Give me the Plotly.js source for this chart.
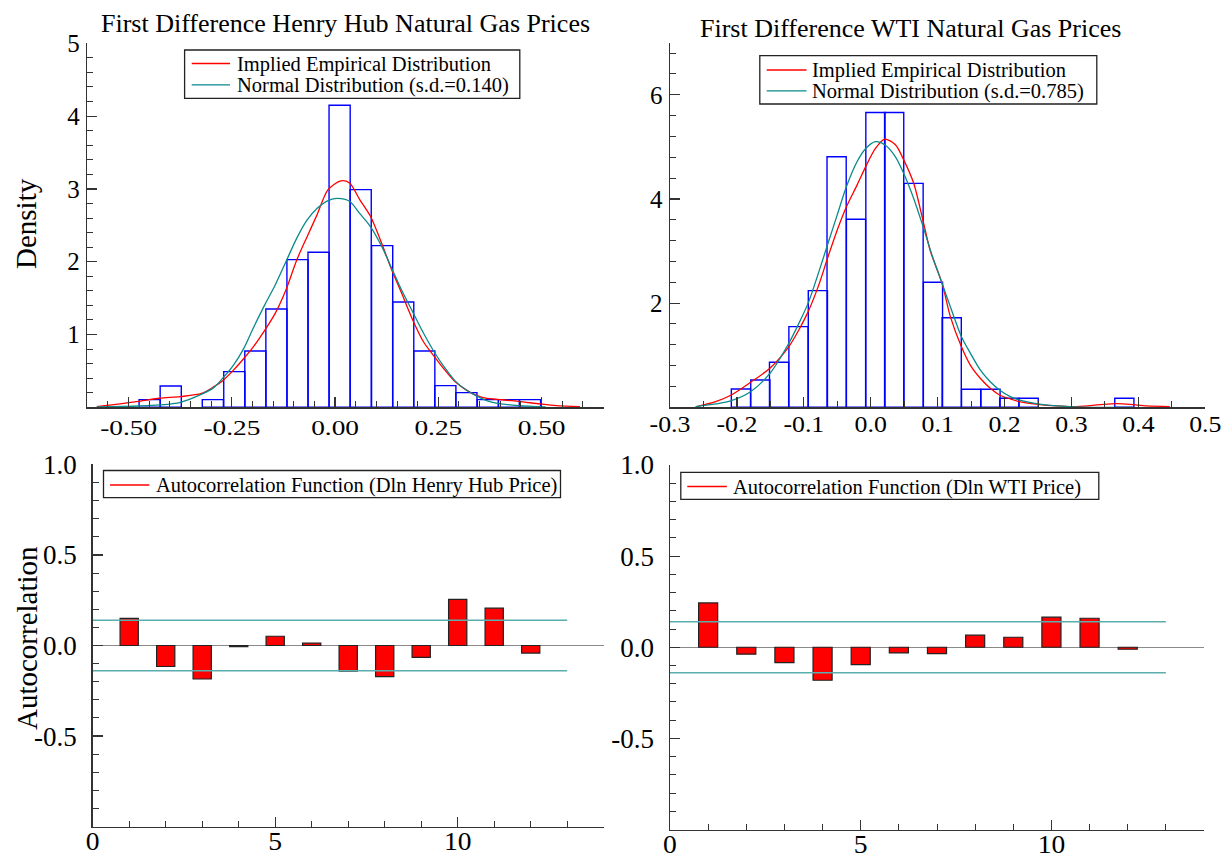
<!DOCTYPE html>
<html>
<head>
<meta charset="utf-8">
<script src="https://cdn.plot.ly/plotly-3.0.1.min.js"></script>
<style>
  html, body { margin: 0; padding: 0; background: #ffffff; }
  #chart { width: 1225px; height: 863px; }
</style>
</head>
<body>
<div id="chart"></div>
<script>
// ---------------- DATA ----------------
// Henry Hub histogram (density), bin centres and common bin width
const hhBinCenters = [-0.449, -0.398, -0.347, -0.296, -0.244, -0.193, -0.142, -0.091, -0.040, 0.011, 0.062, 0.114, 0.165, 0.216, 0.267, 0.318, 0.370, 0.421, 0.472];
const hhBinDensity = [0.105, 0.293, null, 0.105, 0.49, 0.774, 1.351, 2.028, 2.129, 4.15, 2.99, 2.221, 1.447, 0.774, 0.298, 0.201, 0.105, 0.105, 0.105];
const hhBinWidth = 0.0512;

// Henry Hub implied empirical density
const hhEmpX = [-0.577, -0.475, -0.425, -0.374, -0.323, -0.294, -0.272, -0.246, -0.221, -0.198, -0.170, -0.145, -0.119, -0.093, -0.068, -0.044, -0.017, 0.014, 0.035, 0.060, 0.086, 0.113, 0.137, 0.161, 0.188, 0.214, 0.240, 0.266, 0.291, 0.317, 0.342, 0.367, 0.393, 0.444, 0.496, 0.536, 0.593];
const hhEmpY = [0.01, 0.082, 0.124, 0.147, 0.19, 0.28, 0.366, 0.51, 0.67, 0.83, 1.06, 1.29, 1.61, 2.02, 2.34, 2.64, 2.99, 3.11, 3.08, 2.85, 2.62, 2.25, 1.89, 1.57, 1.20, 0.90, 0.70, 0.51, 0.35, 0.24, 0.165, 0.124, 0.11, 0.082, 0.046, 0.023, 0.01];

// Henry Hub normal density
const hhNormX = [-0.577, -0.475, -0.425, -0.374, -0.323, -0.294, -0.272, -0.246, -0.221, -0.198, -0.170, -0.145, -0.119, -0.093, -0.068, -0.044, -0.017, 0.006, 0.035, 0.060, 0.086, 0.113, 0.137, 0.161, 0.188, 0.214, 0.240, 0.266, 0.291, 0.317, 0.342, 0.367, 0.393, 0.444, 0.510];
const hhNormY = [0.005, 0.018, 0.032, 0.069, 0.18, 0.27, 0.40, 0.58, 0.81, 1.09, 1.41, 1.68, 2.00, 2.32, 2.57, 2.73, 2.84, 2.87, 2.83, 2.66, 2.48, 2.21, 1.91, 1.61, 1.31, 1.02, 0.76, 0.54, 0.36, 0.24, 0.156, 0.092, 0.055, 0.023, 0.006];

// WTI histogram (density)
const wtiBinCenters = [-0.194, -0.165, -0.137, -0.108, -0.079, -0.051, -0.022, 0.007, 0.035, 0.064, 0.093, 0.121, 0.150, 0.179, 0.207, 0.236, 0.379];
const wtiBinDensity = [0.352, 0.525, 0.864, 1.549, 2.24, 4.81, 3.61, 5.66, 5.66, 4.30, 2.40, 1.72, 0.346, 0.346, 0.173, 0.173, 0.173];
const wtiBinWidth = 0.02866;

// WTI implied empirical density
const wtiEmpX = [-0.2616, -0.2318, -0.2084, -0.1796, -0.1507, -0.1224, -0.1075, -0.0935, -0.0776, -0.0646, -0.0502, -0.0363, -0.0203, -0.0075, 0.007, 0.0209, 0.0369, 0.0493, 0.0642, 0.0782, 0.0891, 0.1066, 0.119, 0.1354, 0.1488, 0.1637, 0.1786, 0.1925, 0.2085, 0.2215, 0.2498, 0.278, 0.303, 0.328, 0.348, 0.368, 0.3876, 0.4125, 0.447];
const wtiEmpY = [0.01, 0.109, 0.237, 0.48, 0.75, 1.165, 1.485, 1.837, 2.35, 2.86, 3.40, 3.85, 4.27, 4.62, 4.97, 5.15, 5.04, 4.75, 4.30, 3.58, 3.00, 2.38, 1.74, 1.165, 0.81, 0.557, 0.365, 0.237, 0.16, 0.109, 0.058, 0.026, 0.013, 0.032, 0.058, 0.070, 0.058, 0.026, 0.013];

// WTI normal density
const wtiNormX = [-0.2616, -0.2318, -0.2084, -0.1796, -0.1507, -0.1224, -0.1075, -0.0935, -0.0776, -0.0646, -0.0502, -0.0363, -0.0203, -0.0075, 0.007, 0.0209, 0.0369, 0.0493, 0.0642, 0.0782, 0.0916, 0.1066, 0.119, 0.1354, 0.1488, 0.1637, 0.1786, 0.1925, 0.2085, 0.2215, 0.2498, 0.278, 0.303, 0.33, 0.39];
const wtiNormY = [0.013, 0.064, 0.128, 0.30, 0.65, 1.23, 1.61, 2.00, 2.60, 3.12, 3.69, 4.24, 4.72, 4.97, 5.10, 5.04, 4.81, 4.49, 4.01, 3.47, 2.92, 2.38, 1.93, 1.36, 1.04, 0.717, 0.49, 0.333, 0.205, 0.141, 0.064, 0.026, 0.006, 0.0, 0.0];

// Autocorrelation functions
const acfLags = [1, 2, 3, 4, 5, 6, 7, 8, 9, 10, 11, 12];
const hhAcf  = [0.150, -0.116, -0.185, -0.006, 0.051, 0.013, -0.141, -0.172, -0.066, 0.255, 0.206, -0.042];
const wtiAcf = [0.243, -0.038, -0.084, -0.181, -0.095, -0.031, -0.035, 0.066, 0.055, 0.165, 0.159, -0.011];
const acfBarWidth = 0.5;
const bandLags = [0, 13];
const hhBandUpper = [0.14, 0.14];
const hhBandLower = [-0.14, -0.14];
const wtiBandUpper = [0.14, 0.14];
const wtiBandLower = [-0.14, -0.14];

// Tick labels
const hhTickVals = [-0.5, -0.25, 0, 0.25, 0.5];
const hhTickText = ['-0.50', '-0.25', '0.00', '0.25', '0.50'];
const wtiTickVals = [-0.3, -0.2, -0.1, 0, 0.1, 0.2, 0.3, 0.4, 0.5];
const wtiTickText = ['-0.3', '-0.2', '-0.1', '0.0', '0.1', '0.2', '0.3', '0.4', '0.5'];
const hhYTickVals = [1, 2, 3, 4, 5];
const hhYTickText = ['1', '2', '3', '4', '5'];
const wtiYTickVals = [2, 4, 6];
const wtiYTickText = ['2', '4', '6'];
const acfXTickVals = [0, 5, 10];
const acfXTickText = ['0', '5', '10'];
const acfYTickVals = [-0.5, 0, 0.5, 1];
const acfYTickText = ['-0.5', '0.0', '0.5', '1.0'];

// Titles and legend labels
const titleHH = 'First Difference Henry Hub Natural Gas Prices';
const titleWTI = 'First Difference WTI Natural Gas Prices';
const hhLegendLabels = ['Implied Empirical Distribution', 'Normal Distribution (s.d.=0.140)'];
const wtiLegendLabels = ['Implied Empirical Distribution', 'Normal Distribution (s.d.=0.785)'];
const hhAcfLabel = 'Autocorrelation Function (Dln Henry Hub Price)';
const wtiAcfLabel = 'Autocorrelation Function (Dln WTI Price)';

// ---------------- STYLE ----------------
const FONT = 'Liberation Serif, Times New Roman, serif';
const W = 1225, H = 863;
const px = X => X / W;
const py = Y => 1 - Y / H;
const RED = '#ff0000';
const TEAL = '#0a8a8a';
const BAND = '#5aaeae';
const BLUE = '#0000ff';
const AXC = '#333333';
const LEG_FONT = 20.5;

function axisBase(fontSize) {
  return {
    showline: true, linecolor: AXC, linewidth: 1.5,
    showgrid: false, zeroline: false,
    ticks: 'inside', ticklen: 10, tickwidth: 1.2, tickcolor: AXC,
    tickfont: { family: FONT, size: fontSize, color: '#000' },
    tickmode: 'array', fixedrange: true
  };
}
function minorTicks(d) {
  return { ticks: 'inside', ticklen: 6, tickwidth: 1, tickcolor: AXC, tick0: 0, dtick: d };
}

const traces = [
  // Top-left
  { type: 'bar', x: hhBinCenters, y: hhBinDensity, width: hhBinWidth, xaxis: 'x', yaxis: 'y',
    marker: { color: 'rgba(0,0,0,0)', line: { color: BLUE, width: 1.4 } }, showlegend: false, name: 'Henry Hub histogram' },
  { type: 'scatter', mode: 'lines', x: hhEmpX, y: hhEmpY, xaxis: 'x', yaxis: 'y',
    line: { color: RED, width: 1.3, shape: 'spline', smoothing: 0.8 }, name: hhLegendLabels[0], showlegend: false },
  { type: 'scatter', mode: 'lines', x: hhNormX, y: hhNormY, xaxis: 'x', yaxis: 'y',
    line: { color: TEAL, width: 1.3, shape: 'spline', smoothing: 0.8 }, name: hhLegendLabels[1], showlegend: false },
  // Top-right
  { type: 'bar', x: wtiBinCenters, y: wtiBinDensity, width: wtiBinWidth, xaxis: 'x2', yaxis: 'y2',
    marker: { color: 'rgba(0,0,0,0)', line: { color: BLUE, width: 1.4 } }, showlegend: false, name: 'WTI histogram' },
  { type: 'scatter', mode: 'lines', x: wtiEmpX, y: wtiEmpY, xaxis: 'x2', yaxis: 'y2',
    line: { color: RED, width: 1.3, shape: 'spline', smoothing: 0.8 }, name: wtiLegendLabels[0], showlegend: false },
  { type: 'scatter', mode: 'lines', x: wtiNormX, y: wtiNormY, xaxis: 'x2', yaxis: 'y2',
    line: { color: TEAL, width: 1.3, shape: 'spline', smoothing: 0.8 }, name: wtiLegendLabels[1], showlegend: false },
  // Bottom-left
  { type: 'scatter', mode: 'lines', x: bandLags, y: hhBandUpper, xaxis: 'x3', yaxis: 'y3',
    line: { color: BAND, width: 1.5 }, showlegend: false },
  { type: 'scatter', mode: 'lines', x: bandLags, y: hhBandLower, xaxis: 'x3', yaxis: 'y3',
    line: { color: BAND, width: 1.5 }, showlegend: false },
  { type: 'bar', x: acfLags, y: hhAcf, width: acfBarWidth, xaxis: 'x3', yaxis: 'y3',
    marker: { color: RED, line: { color: '#222', width: 1.2 } }, showlegend: false, name: hhAcfLabel },
  // Bottom-right
  { type: 'scatter', mode: 'lines', x: bandLags, y: wtiBandUpper, xaxis: 'x4', yaxis: 'y4',
    line: { color: BAND, width: 1.5 }, showlegend: false },
  { type: 'scatter', mode: 'lines', x: bandLags, y: wtiBandLower, xaxis: 'x4', yaxis: 'y4',
    line: { color: BAND, width: 1.5 }, showlegend: false },
  { type: 'bar', x: acfLags, y: wtiAcf, width: acfBarWidth, xaxis: 'x4', yaxis: 'y4',
    marker: { color: RED, line: { color: '#222', width: 1.2 } }, showlegend: false, name: wtiAcfLabel }
];

// ---- legend boxes drawn with shapes + annotations (pixel placement) ----
const shapes = [];
const annotations = [];
function addLegend(box, sample, textX, rows) {
  shapes.push({ type: 'rect', xref: 'paper', yref: 'paper', layer: 'above',
    x0: px(box[0]), x1: px(box[1]), y0: py(box[3]), y1: py(box[2]),
    line: { color: '#222', width: 1.3 }, fillcolor: '#ffffff' });
  rows.forEach(r => {
    shapes.push({ type: 'line', xref: 'paper', yref: 'paper', layer: 'above',
      x0: px(sample[0]), x1: px(sample[1]), y0: py(r.y), y1: py(r.y),
      line: { color: r.color, width: 1.3 } });
    annotations.push({ text: r.text, xref: 'paper', yref: 'paper', x: px(textX), y: py(r.y + 0.5),
      xanchor: 'left', yanchor: 'middle', showarrow: false, borderpad: 0,
      font: { family: FONT, size: LEG_FONT, color: '#000' } });
  });
}
addLegend([184.6, 519.8, 50, 98.3], [191.7, 230], 235.5,
  [{ y: 63.5, color: RED, text: hhLegendLabels[0] }, { y: 84.8, color: TEAL, text: hhLegendLabels[1] }]);
addLegend([759.8, 1096.8, 55.7, 104], [766.7, 806.5], 811.5,
  [{ y: 70, color: RED, text: wtiLegendLabels[0] }, { y: 90.8, color: TEAL, text: wtiLegendLabels[1] }]);
addLegend([103.5, 560.5, 470.5, 497.7], [110, 149.3], 155,
  [{ y: 485, color: RED, text: hhAcfLabel }]);
addLegend([680.8, 1098.8, 472.3, 499.3], [687.3, 726.9], 732.3,
  [{ y: 486.5, color: RED, text: wtiAcfLabel }]);

annotations.push(
  { text: titleHH, xref: 'paper', yref: 'paper', x: px(345), y: py(23.5), xanchor: 'center', yanchor: 'middle',
    showarrow: false, font: { family: FONT, size: 26, color: '#000' } },
  { text: titleWTI, xref: 'paper', yref: 'paper', x: px(910.5), y: py(28.8), xanchor: 'center', yanchor: 'middle',
    showarrow: false, font: { family: FONT, size: 26, color: '#000' } },
  { text: 'Density', xref: 'paper', yref: 'paper', textangle: -90, x: px(26), y: py(224),
    xanchor: 'center', yanchor: 'middle', showarrow: false, font: { family: FONT, size: 29, color: '#000' } },
  { text: 'Autocorrelation', xref: 'paper', yref: 'paper', textangle: -90, x: px(27), y: py(638),
    xanchor: 'center', yanchor: 'middle', showarrow: false, font: { family: FONT, size: 29, color: '#000' } }
);

const layout = {
  width: W, height: H,
  margin: { l: 0, r: 0, t: 0, b: 0 },
  paper_bgcolor: '#ffffff', plot_bgcolor: '#ffffff',
  barmode: 'overlay',
  showlegend: false,
  font: { family: FONT, color: '#000' },
  xaxis: Object.assign(axisBase(21.5), {
    domain: [px(87.3), px(603.5)], range: [-0.6, 0.65], anchor: 'y',
    tickvals: hhTickVals, ticktext: hhTickText, ticklabelstandoff: 0, minor: minorTicks(0.05)
  }),
  yaxis: Object.assign(axisBase(25), {
    domain: [py(407.3), py(43.3)], range: [0, 5], anchor: 'x',
    tickvals: hhYTickVals, ticktext: hhYTickText, ticklabelstandoff: 1, minor: minorTicks(0.2)
  }),
  xaxis2: Object.assign(axisBase(23.5), {
    domain: [px(670), px(1205.3)], range: [-0.3, 0.5], anchor: 'y2',
    tickvals: wtiTickVals, ticktext: wtiTickText, ticklabelstandoff: -5, minor: minorTicks(0.05)
  }),
  yaxis2: Object.assign(axisBase(25), {
    domain: [py(407.3), py(42.7)], range: [0, 7], anchor: 'x2',
    tickvals: wtiYTickVals, ticktext: wtiYTickText, ticklabelstandoff: 1, minor: minorTicks(0.4)
  }),
  xaxis3: Object.assign(axisBase(25), {
    domain: [px(92.7), px(603.7)], range: [0, 14], anchor: 'y3',
    tickvals: acfXTickVals, ticktext: acfXTickText, ticklabelstandoff: -8, minor: minorTicks(1)
  }),
  yaxis3: Object.assign(axisBase(27), {
    domain: [py(826.7), py(464.3)], range: [-1, 1], anchor: 'x3',
    tickvals: acfYTickVals, ticktext: acfYTickText, ticklabelstandoff: 9,
    zeroline: true, zerolinecolor: '#8a8a8a', zerolinewidth: 1.2, minor: minorTicks(0.1)
  }),
  xaxis4: Object.assign(axisBase(25), {
    domain: [px(670), px(1204)], range: [0, 14], anchor: 'y4',
    tickvals: acfXTickVals, ticktext: acfXTickText, ticklabelstandoff: -8, minor: minorTicks(1)
  }),
  yaxis4: Object.assign(axisBase(27), {
    domain: [py(829.5), py(465)], range: [-1, 1], anchor: 'x4',
    tickvals: acfYTickVals, ticktext: acfYTickText, ticklabelstandoff: 9,
    zeroline: true, zerolinecolor: '#8a8a8a', zerolinewidth: 1.2, minor: minorTicks(0.1)
  }),
  shapes: shapes,
  annotations: annotations
};

const gd = document.getElementById('chart');
Plotly.newPlot(gd, traces, layout, { staticPlot: true, displayModeBar: false }).then(() => {
  // the reference draws the histogram x tick labels horizontally widened
  const widen = (sel, k) => gd.querySelectorAll(sel).forEach(t => {
    const w = t.getComputedTextLength();
    if (w > 0) { t.setAttribute('textLength', (w * k).toFixed(1)); t.setAttribute('lengthAdjust', 'spacingAndGlyphs'); }
  });
  widen('g.xtick text', 1.27);
  widen('g.x2tick text', 1.1);
  widen('g.x3tick text', 1.1);
  widen('g.x4tick text', 1.1);
});
</script>
</body>
</html>
